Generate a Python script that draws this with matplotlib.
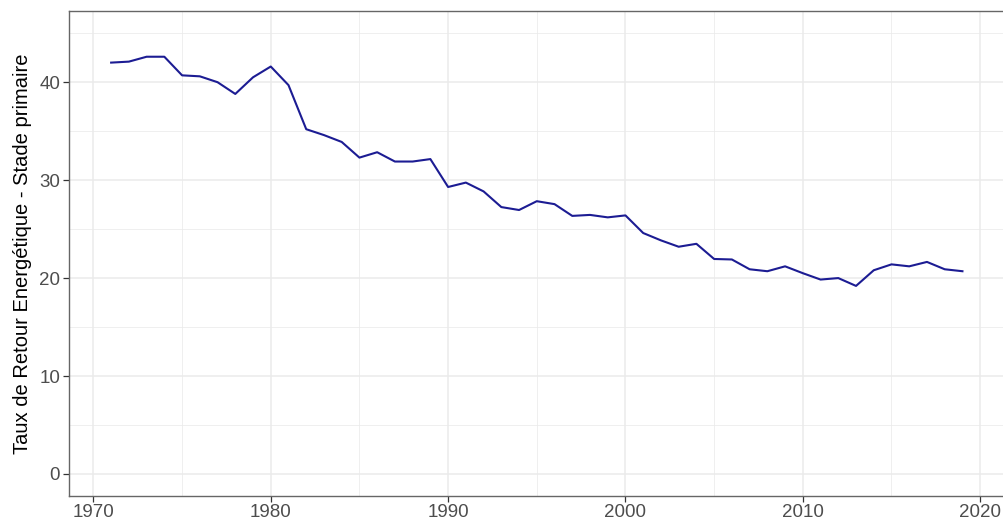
import numpy as np
import matplotlib.pyplot as plt
from matplotlib.ticker import MultipleLocator

# Taux de Retour Energetique au stade primaire
years = list(range(1971, 2020))
tre = [42.0, 42.1, 42.6, 42.6, 40.7, 40.6, 40.0, 38.8, 40.5, 41.6,
       39.7, 35.2, 34.6, 33.9, 32.3, 32.85, 31.9, 31.9, 32.15, 29.3,
       29.75, 28.85, 27.25, 26.95, 27.85, 27.55, 26.35, 26.45, 26.2, 26.4,
       24.6, 23.85, 23.2, 23.5, 21.95, 21.9, 20.9, 20.7, 21.2, 20.5,
       19.85, 20.0, 19.2, 20.8, 21.4, 21.2, 21.65, 20.9, 20.7]

plt.rcParams['font.family'] = ['Liberation Sans', 'DejaVu Sans']

fig = plt.figure(figsize=(10.04, 5.22), dpi=100)
ax = fig.add_axes([0.0683, 0.0498, 0.9327, 0.9297])

ax.plot(years, tre, color='#1c1c93', linewidth=1.5, zorder=3)

ax.set_xlim(1968.6, 2021.4)
ax.set_ylim(-2.25, 47.3)
ax.xaxis.set_major_locator(MultipleLocator(10))
ax.xaxis.set_minor_locator(MultipleLocator(5))
ax.yaxis.set_major_locator(MultipleLocator(10))
ax.yaxis.set_minor_locator(MultipleLocator(5))

ax.grid(which='major', color='#EBEBEB', linewidth=1.1, zorder=0)
ax.grid(which='minor', color='#EBEBEB', linewidth=0.55, zorder=0)
ax.set_axisbelow(True)

for s in ax.spines.values():
    s.set_color('#666666')
    s.set_linewidth(1.0)

ax.tick_params(which='major', length=4, width=0.9, color='#333333',
               labelsize=13.5, labelcolor='#4D4D4D', pad=2)
ax.tick_params(which='minor', length=0)

ax.set_ylabel('Taux de Retour Energétique - Stade primaire', fontsize=14.5,
              color='black', labelpad=5)

plt.savefig('out.png', dpi=100)
